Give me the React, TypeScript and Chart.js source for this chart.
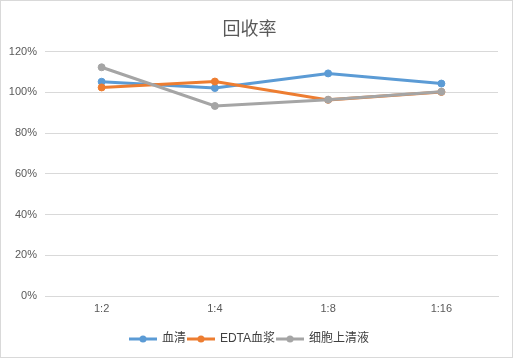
import React, { useEffect, useRef } from "react";
import { Chart, registerables } from "chart.js";

Chart.register(...registerables);

const titleText = "回收率";
const categories = ["1:2", "1:4", "1:8", "1:16"];
const serumValues = [105.2, 102.1, 109.3, 104.3];
const edtaValues = [102.4, 105.3, 96.3, 100.2];
const supernatantValues = [112.3, 93.3, 96.4, 100.3];
const seriesNames = ["血清", "EDTA血浆", "细胞上清液"];
const seriesColors = ["#5B9BD5", "#ED7D31", "#A5A5A5"];
const yMin = 0;
const yMax = 120;
const yStep = 20;

const FONT = "'Liberation Sans', 'Noto Sans CJK SC', sans-serif";
const CJK_FONT = "'Noto Sans CJK SC', 'Liberation Sans', sans-serif";
const LEGEND_FONT = "'Liberation Sans', 'Noto Sans CJK SC', sans-serif";

function makeLegendIcon(color: string): HTMLCanvasElement {
  const c = document.createElement("canvas");
  c.width = 28;
  c.height = 8;
  const ctx = c.getContext("2d")!;
  ctx.strokeStyle = color;
  ctx.lineWidth = 3;
  ctx.beginPath();
  ctx.moveTo(0, 4);
  ctx.lineTo(28, 4);
  ctx.stroke();
  ctx.fillStyle = color;
  ctx.beginPath();
  ctx.arc(14, 4, 3.5, 0, Math.PI * 2);
  ctx.fill();
  return c;
}

export default function App() {
  const canvasRef = useRef<HTMLCanvasElement | null>(null);

  useEffect(() => {
    document.body.style.margin = "0";
    const canvas = canvasRef.current;
    if (!canvas) return;
    const seriesData = [serumValues, edtaValues, supernatantValues];
    const icons = seriesColors.map((c) => makeLegendIcon(c));
    const chart = new Chart(canvas, {
      type: "line",
      data: {
        labels: categories,
        datasets: seriesNames.map((name, i) => ({
          label: name,
          data: seriesData[i],
          order: seriesNames.length - i,
          borderColor: seriesColors[i],
          backgroundColor: seriesColors[i],
          borderWidth: 3,
          pointRadius: 3.5,
          pointBorderWidth: 1,
          pointBackgroundColor: seriesColors[i],
          pointBorderColor: seriesColors[i],
          pointStyle: "circle",
          tension: 0,
          fill: false,
        })),
      },
      options: {
        responsive: false,
        animation: false,
        layout: { padding: { left: 0, right: 14, top: 0, bottom: 2 } },
        plugins: {
          title: {
            display: true,
            text: titleText,
            color: "#595959",
            font: { family: CJK_FONT, size: 18, weight: "normal" as any },
            padding: { top: 16, bottom: 13 },
          },
          legend: {
            position: "bottom",
            labels: {
              usePointStyle: true,
              pointStyleWidth: 26,
              padding: 2,
              color: "#404040",
              font: { family: LEGEND_FONT, size: 12 },
              generateLabels: (ch: any) =>
                ch.data.datasets.map((ds: any, i: number) => ({
                  text: ds.label,
                  fillStyle: seriesColors[i],
                  strokeStyle: seriesColors[i],
                  lineWidth: 0,
                  pointStyle: icons[i],
                  hidden: false,
                  datasetIndex: i,
                  fontColor: "#404040",
                })),
            },
          },
          tooltip: { enabled: false },
        },
        scales: {
          x: {
            offset: true,
            grid: { display: false, drawTicks: false },
            border: { display: true, color: "#d9d9d9", width: 1 },
            ticks: {
              color: "#595959",
              font: { family: FONT, size: 11 },
              padding: 6,
              maxRotation: 0,
            },
            afterFit: (s: any) => {
              s.height = 35;
            },
          },
          y: {
            min: yMin,
            max: yMax,
            grid: { color: "#d9d9d9", drawTicks: false, lineWidth: 1 },
            border: { display: false },
            ticks: {
              stepSize: yStep,
              color: "#595959",
              font: { family: FONT, size: 11 },
              padding: 8,
              callback: (v: any) => v + "%",
            },
            afterFit: (s: any) => {
              s.width = 44;
            },
          },
        },
      },
    });
    return () => chart.destroy();
  }, []);

  return (
    <div
      style={{
        width: 513,
        height: 358,
        border: "1px solid #d9d9d9",
        boxSizing: "border-box",
        background: "#ffffff",
        position: "relative",
      }}
    >
      <canvas ref={canvasRef} width={511} height={356} style={{ display: "block" }} />
    </div>
  );
}
